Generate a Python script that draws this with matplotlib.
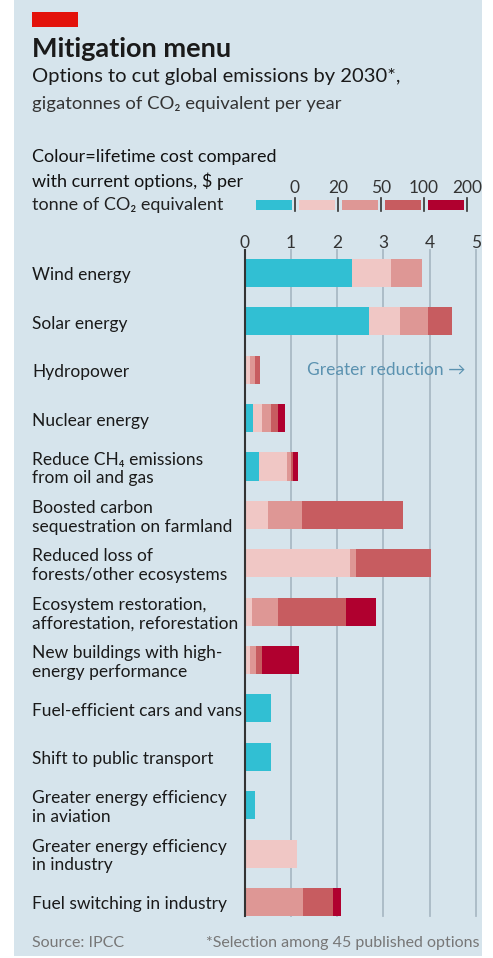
import numpy as np
import matplotlib
matplotlib.use("Agg")
import matplotlib.pyplot as plt
from matplotlib.patches import Rectangle

plt.rcParams['font.family'] = ['Lato', 'DejaVu Sans']

# --- data (gigatonnes CO2e per year, by cost band) ---
options = [
    "Wind energy",
    "Solar energy",
    "Hydropower",
    "Nuclear energy",
    "Reduce CH\u2084 emissions\nfrom oil and gas",
    "Boosted carbon\nsequestration on farmland",
    "Reduced loss of\nforests/other ecosystems",
    "Ecosystem restoration,\nafforestation, reforestation",
    "New buildings with high-\nenergy performance",
    "Fuel-efficient cars and vans",
    "Shift to public transport",
    "Greater energy efficiency\nin aviation",
    "Greater energy efficiency\nin industry",
    "Fuel switching in industry",
]
below_0 = [2.33, 2.70, 0.00, 0.18, 0.32, 0.00, 0.00, 0.00, 0.00, 0.56, 0.56, 0.22, 0.00, 0.00]
c0_20 = [0.83, 0.66, 0.11, 0.19, 0.59, 0.51, 2.28, 0.16, 0.11, 0.00, 0.00, 0.00, 1.14, 0.00]
c20_50 = [0.67, 0.61, 0.11, 0.19, 0.09, 0.72, 0.12, 0.56, 0.14, 0.00, 0.00, 0.00, 0.00, 1.26]
c50_100 = [0.00, 0.51, 0.11, 0.15, 0.04, 2.20, 1.63, 1.47, 0.12, 0.00, 0.00, 0.00, 0.00, 0.65]
c100_200 = [0.00, 0.00, 0.00, 0.17, 0.11, 0.00, 0.00, 0.66, 0.80, 0.00, 0.00, 0.00, 0.00, 0.17]
cost_bounds = ["0", "20", "50", "100", "200"]
xticks = [0, 1, 2, 3, 4, 5]

band_colors = ["#31bfd3", "#f0c7c5", "#de9795", "#c75c60", "#b0002f"]
bg = "#d6e4ec"
W, H = 493, 958

fig = plt.figure(figsize=(W / 100, H / 100), dpi=100)
fig.patch.set_facecolor("white")

def fx(px):
    return px / W

def fy(py):
    return 1 - py / H

# background panel
fig.patches.append(Rectangle((fx(14), fy(956)), fx(482) - fx(14), fy(0) - fy(956),
                             transform=fig.transFigure, facecolor=bg, edgecolor="none", zorder=-5))
# red tag
fig.patches.append(Rectangle((fx(32), fy(27)), fx(78) - fx(32), fy(12) - fy(27),
                             transform=fig.transFigure, facecolor="#e3120b", edgecolor="none", zorder=1))

dark = "#1a1a1a"
fig.text(fx(32), fy(57), "Mitigation menu", fontsize=19.5, fontweight="bold", color=dark, va="baseline")
fig.text(fx(32), fy(82), "Options to cut global emissions by 2030*,", fontsize=14.5, color=dark, va="baseline")
fig.text(fx(32), fy(109), "gigatonnes of CO\u2082 equivalent per year", fontsize=13.3, color="#333333", va="baseline")

fig.text(fx(32), fy(162), "Colour=lifetime cost compared", fontsize=13, color="#111111", va="baseline")
fig.text(fx(32), fy(187), "with current options, $ per", fontsize=13, color="#111111", va="baseline")
fig.text(fx(32), fy(210), "tonne of CO\u2082 equivalent", fontsize=13, color="#222222", va="baseline")

# colour key
sw_left = [256, 299, 342, 385, 428]
tick_px = [295, 338, 381, 424, 467]
for i in range(5):
    fig.patches.append(Rectangle((fx(sw_left[i]), fy(210)), fx(36), fy(200) - fy(210),
                                 transform=fig.transFigure, facecolor=band_colors[i],
                                 edgecolor="none", zorder=2))
    fig.lines.append(plt.Line2D([fx(tick_px[i])] * 2, [fy(211), fy(198)], transform=fig.transFigure,
                                color="#333333", lw=1.2))
    fig.text(fx(tick_px[i]), fy(193), cost_bounds[i], fontsize=12.5, color="#333333",
             ha="center", va="baseline")

# main axes
x0_px, x5_px = 244.7, 475.7
top_px, bot_px = 250, 916
ax = fig.add_axes([fx(x0_px), fy(bot_px), fx(x5_px) - fx(x0_px), fy(top_px) - fy(bot_px)])
ax.set_facecolor("none")
n = len(options)
y = np.arange(n)
ax.set_xlim(0, 5)
ax.set_ylim(13.29, -0.475)

for xv in xticks[1:]:
    ax.axvline(xv, color="#a9b9c5", lw=1.3, zorder=0, clip_on=False)

bands = [below_0, c0_20, c20_50, c50_100, c100_200]
left = np.zeros(n)
for vals, col in zip(bands, band_colors):
    vals = np.array(vals)
    ax.barh(y, vals, left=left, height=0.58, color=col, edgecolor="none", zorder=2)
    left += vals

ax.axvline(0, color="#333333", lw=1.5, zorder=3, clip_on=False)

for s in ax.spines.values():
    s.set_visible(False)
ax.xaxis.tick_top()
ax.set_xticks(xticks)
ax.set_xticklabels([str(t) for t in xticks])
ax.tick_params(axis="x", length=0, pad=-1, labelsize=12.5, labelcolor="#333333")
ax.set_yticks([])

for i, lab in enumerate(options):
    ax.text(-(x0_px - 32) / ((x5_px - x0_px) / 5), i + 0.05, lab, fontsize=12.5, color=dark,
            ha="left", va="center", linespacing=1.2, clip_on=False)

ax.text(1.35, 2, "Greater reduction \u2192", fontsize=12.5, color="#5b92b0", ha="left", va="center")

fig.text(fx(32), fy(947), "Source: IPCC", fontsize=11.5, color="#777777", va="baseline")
fig.text(fx(480), fy(947), "*Selection among 45 published options", fontsize=11.5, color="#777777",
         ha="right", va="baseline")

fig.savefig("out.png", dpi=100, facecolor="white")
